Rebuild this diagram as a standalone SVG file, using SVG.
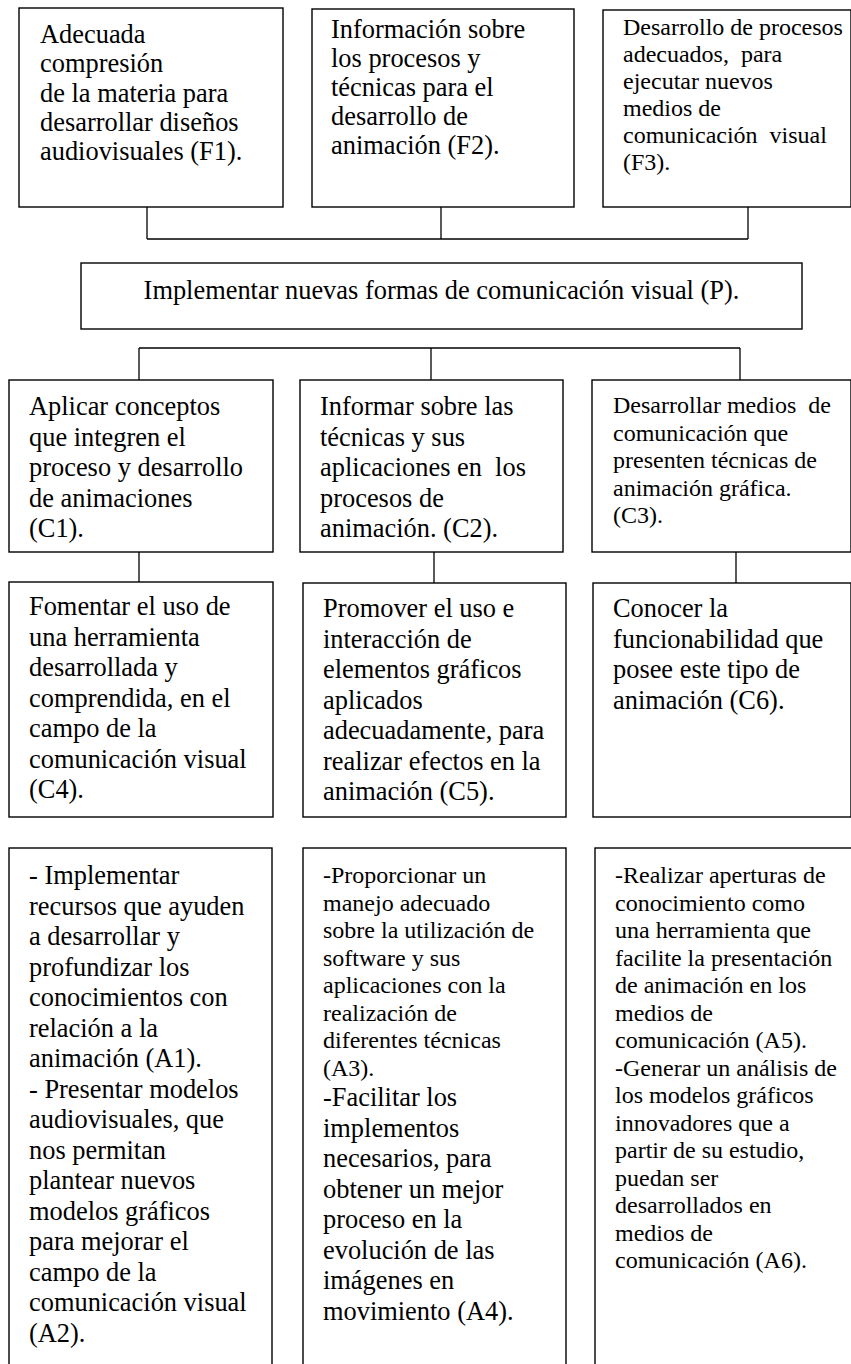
<svg xmlns="http://www.w3.org/2000/svg" width="851" height="1364" viewBox="0 0 851 1364">
<style>
.box{fill:#fff;stroke:#000;stroke-width:1.4}
.t{font-family:"Liberation Serif","Times New Roman",serif;fill:#000;white-space:pre}
.l{font-size:26.4px}
.s{font-size:24px}
#connectors line{stroke:#000;stroke-width:1.3}
</style>
<rect width="851" height="1364" fill="#fff"/>
<g id="connectors">
<line x1="147" y1="207" x2="147" y2="239"/>
<line x1="441" y1="207" x2="441" y2="239"/>
<line x1="748" y1="207" x2="748" y2="239"/>
<line x1="147" y1="239" x2="748" y2="239"/>
<line x1="139" y1="348" x2="740" y2="348"/>
<line x1="139" y1="348" x2="139" y2="380"/>
<line x1="431" y1="348" x2="431" y2="380"/>
<line x1="740" y1="348" x2="740" y2="380"/>
<line x1="139" y1="552" x2="139" y2="582"/>
<line x1="434" y1="552" x2="434" y2="583"/>
<line x1="736" y1="552" x2="736" y2="583"/>
</g>
<g id="F1">
<rect class="box" x="19" y="8" width="264" height="199"/>
<text class="t l"><tspan x="40" y="43">Adecuada</tspan><tspan x="40" y="72.3">compresión</tspan><tspan x="40" y="101.6">de la materia para</tspan><tspan x="40" y="130.9">desarrollar diseños</tspan><tspan x="40" y="160.2">audiovisuales (F1).</tspan></text>
</g>
<g id="F2">
<rect class="box" x="312" y="9" width="262" height="198"/>
<text class="t l"><tspan x="331" y="38">Información sobre</tspan><tspan x="331" y="67">los procesos y</tspan><tspan x="331" y="96">técnicas para el</tspan><tspan x="331" y="125">desarrollo de</tspan><tspan x="331" y="154">animación (F2).</tspan></text>
</g>
<g id="F3">
<rect class="box" x="603" y="10" width="248" height="197"/>
<text class="t s"><tspan x="623" y="35">Desarrollo de procesos</tspan><tspan x="623" y="62">adecuados,  para</tspan><tspan x="623" y="89">ejecutar nuevos</tspan><tspan x="623" y="116">medios de</tspan><tspan x="623" y="143">comunicación  visual</tspan><tspan x="623" y="170">(F3).</tspan></text>
</g>
<g id="P">
<rect class="box" x="81" y="263" width="721" height="66"/>
<text class="t l" x="441.5" y="299" text-anchor="middle">Implementar nuevas formas de comunicación visual (P).</text>
</g>
<g id="C1">
<rect class="box" x="9" y="380" width="264" height="172"/>
<text class="t l"><tspan x="29" y="415">Aplicar conceptos</tspan><tspan x="29" y="445.5">que integren el</tspan><tspan x="29" y="476">proceso y desarrollo</tspan><tspan x="29" y="506.5">de animaciones</tspan><tspan x="29" y="537">(C1).</tspan></text>
</g>
<g id="C2">
<rect class="box" x="300" y="380" width="263" height="172"/>
<text class="t l"><tspan x="320" y="415">Informar sobre las</tspan><tspan x="320" y="445.5">técnicas y sus</tspan><tspan x="320" y="476">aplicaciones en  los</tspan><tspan x="320" y="506.5">procesos de</tspan><tspan x="320" y="537">animación. (C2).</tspan></text>
</g>
<g id="C3">
<rect class="box" x="592" y="380" width="259" height="172"/>
<text class="t s"><tspan x="613" y="413">Desarrollar medios  de</tspan><tspan x="613" y="440.5">comunicación que</tspan><tspan x="613" y="468">presenten técnicas de</tspan><tspan x="613" y="495.5">animación gráfica.</tspan><tspan x="613" y="523">(C3).</tspan></text>
</g>
<g id="C4">
<rect class="box" x="9" y="582" width="264" height="235"/>
<text class="t l"><tspan x="29" y="615">Fomentar el uso de</tspan><tspan x="29" y="645.5">una herramienta</tspan><tspan x="29" y="676">desarrollada y</tspan><tspan x="29" y="706.5">comprendida, en el</tspan><tspan x="29" y="737">campo de la</tspan><tspan x="29" y="767.5">comunicación visual</tspan><tspan x="29" y="798">(C4).</tspan></text>
</g>
<g id="C5">
<rect class="box" x="303" y="583" width="263" height="234"/>
<text class="t l"><tspan x="323" y="617">Promover el uso e</tspan><tspan x="323" y="647.5">interacción de</tspan><tspan x="323" y="678">elementos gráficos</tspan><tspan x="323" y="708.5">aplicados</tspan><tspan x="323" y="739">adecuadamente, para</tspan><tspan x="323" y="769.5">realizar efectos en la</tspan><tspan x="323" y="800">animación (C5).</tspan></text>
</g>
<g id="C6">
<rect class="box" x="593" y="583" width="258" height="234"/>
<text class="t l"><tspan x="613" y="617">Conocer la</tspan><tspan x="613" y="647.5">funcionabilidad que</tspan><tspan x="613" y="678">posee este tipo de</tspan><tspan x="613" y="708.5">animación (C6).</tspan></text>
</g>
<g id="A1A2">
<rect class="box" x="9" y="848" width="263" height="530"/>
<text class="t l"><tspan x="29" y="884">- Implementar</tspan><tspan x="29" y="914.5">recursos que ayuden</tspan><tspan x="29" y="945">a desarrollar y</tspan><tspan x="29" y="975.5">profundizar los</tspan><tspan x="29" y="1006">conocimientos con</tspan><tspan x="29" y="1036.5">relación a la</tspan><tspan x="29" y="1067">animación (A1).</tspan><tspan x="29" y="1097.5">- Presentar modelos</tspan><tspan x="29" y="1128">audiovisuales, que</tspan><tspan x="29" y="1158.5">nos permitan</tspan><tspan x="29" y="1189">plantear nuevos</tspan><tspan x="29" y="1219.5">modelos gráficos</tspan><tspan x="29" y="1250">para mejorar el</tspan><tspan x="29" y="1280.5">campo de la</tspan><tspan x="29" y="1311">comunicación visual</tspan><tspan x="29" y="1341.5">(A2).</tspan></text>
</g>
<g id="A3A4">
<rect class="box" x="303" y="848" width="263" height="530"/>
<text class="t s"><tspan x="323" y="883">-Proporcionar un</tspan><tspan x="323" y="910.5">manejo adecuado</tspan><tspan x="323" y="938">sobre la utilización de</tspan><tspan x="323" y="965.5">software y sus</tspan><tspan x="323" y="993">aplicaciones con la</tspan><tspan x="323" y="1020.5">realización de</tspan><tspan x="323" y="1048">diferentes técnicas</tspan><tspan x="323" y="1075.5">(A3).</tspan></text>
<text class="t l"><tspan x="323" y="1106">-Facilitar los</tspan><tspan x="323" y="1136.5">implementos</tspan><tspan x="323" y="1167">necesarios, para</tspan><tspan x="323" y="1197.5">obtener un mejor</tspan><tspan x="323" y="1228">proceso en la</tspan><tspan x="323" y="1258.5">evolución de las</tspan><tspan x="323" y="1289">imágenes en</tspan><tspan x="323" y="1319.5">movimiento (A4).</tspan></text>
</g>
<g id="A5A6">
<rect class="box" x="595" y="848" width="262" height="530"/>
<text class="t s"><tspan x="615" y="883">-Realizar aperturas de</tspan><tspan x="615" y="910.5">conocimiento como</tspan><tspan x="615" y="938">una herramienta que</tspan><tspan x="615" y="965.5">facilite la presentación</tspan><tspan x="615" y="993">de animación en los</tspan><tspan x="615" y="1020.5">medios de</tspan><tspan x="615" y="1048">comunicación (A5).</tspan><tspan x="615" y="1075.5">-Generar un análisis de</tspan><tspan x="615" y="1103">los modelos gráficos</tspan><tspan x="615" y="1130.5">innovadores que a</tspan><tspan x="615" y="1158">partir de su estudio,</tspan><tspan x="615" y="1185.5">puedan ser</tspan><tspan x="615" y="1213">desarrollados en</tspan><tspan x="615" y="1240.5">medios de</tspan><tspan x="615" y="1268">comunicación (A6).</tspan></text>
</g>
</svg>
